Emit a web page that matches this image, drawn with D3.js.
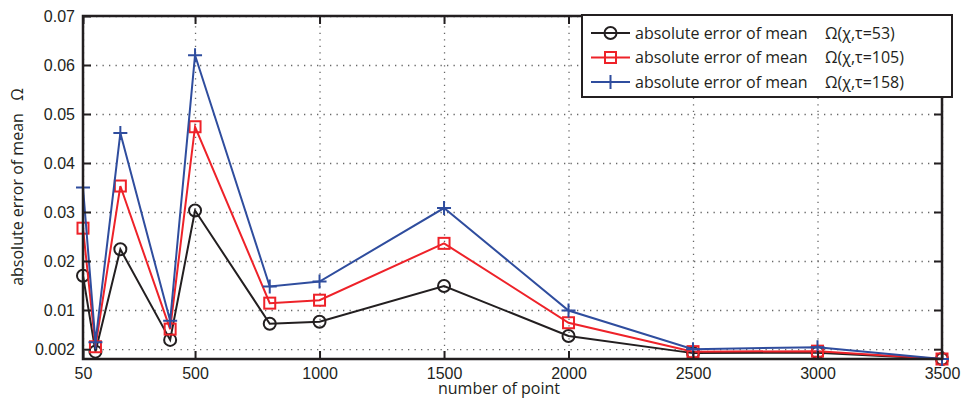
<!DOCTYPE html>
<html>
<head>
<meta charset="utf-8">
<script src="https://cdn.jsdelivr.net/npm/d3@7"></script>
<style>
  body { margin: 0; background: #fff; }
  svg { font-family: "Open Sans", sans-serif; }
</style>
</head>
<body>
<div id="wrapper"></div>
<script>
const x_values = [50, 100, 200, 400, 500, 800, 1000, 1500, 2000, 2500, 3000, 3500];
const tau53  = [0.0170, 0.0015, 0.0224, 0.0039, 0.0303, 0.0072, 0.0076, 0.0149, 0.0047, 0.0012, 0.0013, 0.0000];
const tau105 = [0.0267, 0.0025, 0.0353, 0.0061, 0.0474, 0.0114, 0.0120, 0.0236, 0.0074, 0.0015, 0.0016, 0.0000];
const tau158 = [0.0350, 0.0034, 0.0461, 0.0078, 0.0620, 0.0148, 0.0158, 0.0308, 0.0099, 0.0020, 0.0024, 0.0000];
const x_ticks = [50, 500, 1000, 1500, 2000, 2500, 3000, 3500];
const y_ticks = [0.002, 0.01, 0.02, 0.03, 0.04, 0.05, 0.06, 0.07];
const series_names = ["\u03A9(\u03C7,\u03C4=53)", "\u03A9(\u03C7,\u03C4=105)", "\u03A9(\u03C7,\u03C4=158)"];

function drawChart() {
    let dimensions = {
        width: 961,
        height: 398,
        margin: { top: 16, right: 19, bottom: 39, left: 83 }
    };
    dimensions.bounded_width = dimensions.width - dimensions.margin.left - dimensions.margin.right;
    dimensions.bounded_height = dimensions.height - dimensions.margin.top - dimensions.margin.bottom;

    const wrapper = d3.select("#wrapper").append("svg")
        .attr("width", dimensions.width)
        .attr("height", dimensions.height);

    const bounds = wrapper.append("g")
        .attr("transform", `translate(${dimensions.margin.left},${dimensions.margin.top})`);

    const x_scale = d3.scaleLinear()
        .domain([50, 3500])
        .range([0, dimensions.bounded_width]);
    const y_scale = d3.scaleLinear()
        .domain([0, 0.07])
        .range([dimensions.bounded_height, 0]);

    // dotted grid
    const grid_style = g => {
        g.select(".domain").remove();
        g.selectAll("text").remove();
        g.selectAll("line").attr("stroke", "#666").attr("stroke-width", 1.3)
            .attr("stroke-dasharray", "1.3,5.2");
    };
    bounds.append("g")
        .attr("transform", `translate(0,${dimensions.bounded_height})`)
        .call(d3.axisBottom(x_scale).tickValues(x_ticks).tickSize(-dimensions.bounded_height))
        .call(grid_style);
    bounds.append("g")
        .call(d3.axisLeft(y_scale).tickValues(y_ticks).tickSize(-dimensions.bounded_width))
        .call(grid_style);

    // series
    const all_series = [
        { values: tau53,  color: "#231f20", marker: "circle" },
        { values: tau105, color: "#ee2229", marker: "square" },
        { values: tau158, color: "#2f4d9e", marker: "plus" }
    ];
    const line_gen = d3.line()
        .x((d, i) => x_scale(x_values[i]))
        .y(d => y_scale(d));

    function drawMarker(g, type, color) {
        if (type === "circle") {
            g.append("circle").attr("r", 6).attr("fill", "none")
                .attr("stroke", color).attr("stroke-width", 2);
        } else if (type === "square") {
            g.append("rect").attr("x", -5.5).attr("y", -5.5).attr("width", 11).attr("height", 11)
                .attr("fill", "none").attr("stroke", color).attr("stroke-width", 2);
        } else {
            g.append("path").attr("d", "M-7,0H7M0,-7V7")
                .attr("stroke", color).attr("stroke-width", 2);
        }
    }

    all_series.forEach(s => {
        bounds.append("path")
            .attr("d", line_gen(s.values))
            .attr("fill", "none")
            .attr("stroke", s.color)
            .attr("stroke-width", 2);
        s.values.forEach((v, i) => {
            const m = bounds.append("g")
                .attr("transform", `translate(${x_scale(x_values[i])},${y_scale(v)})`);
            drawMarker(m, s.marker, s.color);
        });
    });

    // axes with inward ticks
    const axis_style = g => {
        g.select(".domain").remove();
        g.selectAll("line").attr("stroke", "#231f20").attr("stroke-width", 2);
        g.selectAll("text").attr("fill", "#231f20").style("font-size", "16px");
    };
    bounds.append("g")
        .attr("transform", `translate(0,${dimensions.bounded_height})`)
        .call(d3.axisBottom(x_scale).tickValues(x_ticks).tickFormat(d3.format("d"))
            .tickSize(-8).tickPadding(9))
        .call(axis_style);
    bounds.append("g")
        .call(d3.axisLeft(y_scale).tickValues(y_ticks).tickFormat(d3.format("~g")).tickSize(-8).tickPadding(8))
        .call(axis_style);
    bounds.append("g")
        .call(d3.axisTop(x_scale).tickValues(x_ticks).tickSize(-8).tickFormat(""))
        .call(axis_style);
    bounds.append("g")
        .attr("transform", `translate(${dimensions.bounded_width},0)`)
        .call(d3.axisRight(y_scale).tickValues(y_ticks).tickSize(-8).tickFormat(""))
        .call(axis_style);

    bounds.append("rect")
        .attr("width", dimensions.bounded_width)
        .attr("height", dimensions.bounded_height)
        .attr("fill", "none")
        .attr("stroke", "#231f20")
        .attr("stroke-width", 2.5);

    // labels
    wrapper.append("text")
        .attr("x", 499)
        .attr("y", 394)
        .attr("text-anchor", "middle")
        .attr("fill", "#231f20")
        .style("font-size", "16px")
        .text("number of point");

    wrapper.append("text")
        .attr("transform", "translate(23,187) rotate(-90)")
        .attr("text-anchor", "middle")
        .attr("fill", "#231f20")
        .style("font-size", "16px")
        .style("white-space", "pre")
        .text("absolute error of mean   \u03A9");

    // legend
    const legend = wrapper.append("g").attr("transform", "translate(582,15)");
    legend.append("rect")
        .attr("width", 370)
        .attr("height", 82)
        .attr("fill", "#fff")
        .attr("stroke", "#231f20")
        .attr("stroke-width", 2);
    all_series.forEach((s, i) => {
        const row = legend.append("g").attr("transform", `translate(0,${18 + i * 24.5})`);
        row.append("line").attr("x1", 9).attr("x2", 48)
            .attr("stroke", s.color).attr("stroke-width", 2);
        const m = row.append("g").attr("transform", "translate(28.5,0)");
        drawMarker(m, s.marker, s.color);
        row.append("text").attr("x", 53).attr("dy", "0.35em")
            .attr("fill", "#231f20").style("font-size", "16px")
            .text("absolute error of mean");
        row.append("text").attr("x", 243).attr("dy", "0.35em")
            .attr("fill", "#231f20").style("font-size", "16px")
            .text(series_names[i]);
    });
}

drawChart();
</script>
</body>
</html>
